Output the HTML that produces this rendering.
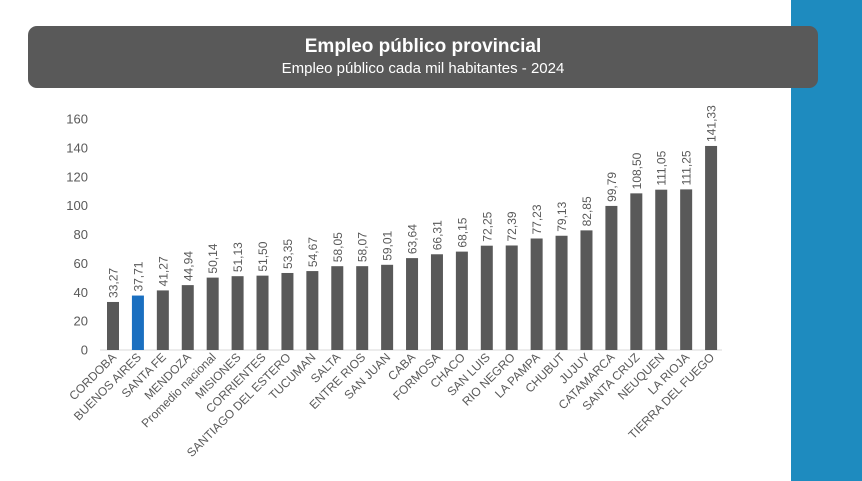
<!DOCTYPE html>
<html><head><meta charset="utf-8"><style>
body{margin:0;width:862px;height:481px;background:#fff;position:relative;overflow:hidden;font-family:"Liberation Sans",sans-serif}
.strip{position:absolute;left:791px;top:0;width:71px;height:481px;background:#1e8bbf}
.title{position:absolute;left:28px;top:26px;width:790px;height:62px;background:#595959;border-radius:9px;color:#fff;text-align:center}
</style></head><body>
<div class="strip"></div>
<div class="title"><div style="font-weight:bold;font-size:19px;margin-top:10px">Empleo público provincial</div><div style="font-size:15px;margin-top:2px">Empleo público cada mil habitantes - 2024</div></div>
<svg width="862" height="481" style="position:absolute;left:0;top:0" font-family="Liberation Sans, sans-serif" fill="#595959">
<g font-size="13" text-anchor="end" id="yax"></g>
<line x1="100" y1="350" x2="722" y2="350" stroke="#d9d9d9"/>
<g id="bars"></g>
</svg>
<script>
var d=[["CORDOBA",33.27],["BUENOS AIRES",37.71],["SANTA FE",41.27],["MENDOZA",44.94],["Promedio nacional",50.14],["MISIONES",51.13],["CORRIENTES",51.50],["SANTIAGO DEL ESTERO",53.35],["TUCUMAN",54.67],["SALTA",58.05],["ENTRE RIOS",58.07],["SAN JUAN",59.01],["CABA",63.64],["FORMOSA",66.31],["CHACO",68.15],["SAN LUIS",72.25],["RIO NEGRO",72.39],["LA PAMPA",77.23],["CHUBUT",79.13],["JUJUY",82.85],["CATAMARCA",99.79],["SANTA CRUZ",108.50],["NEUQUEN",111.05],["LA RIOJA",111.25],["TIERRA DEL FUEGO",141.33]];
var s="",k=231/160;
for(var v=0;v<=160;v+=20){s+='<text x="88" y="'+(354.5-v*k)+'">'+v+'</text>';}
document.getElementById('yax').innerHTML=s;s="";
d.forEach(function(e,i){var x=107+i*24.92,h=e[1]*k,c=x+6;
s+='<rect x="'+x+'" y="'+(350-h)+'" width="12" height="'+h+'" fill="'+(i==1?'#1a6fc0':'#595959')+'"/>';
s+='<text font-size="12" transform="translate('+(c+4.5)+','+(346-h)+') rotate(-90)">'+e[1].toFixed(2).replace('.',',')+'</text>';
s+='<text font-size="12" text-anchor="end" transform="translate('+(c+4)+',358) rotate(-45)">'+e[0]+'</text>';});
document.getElementById('bars').innerHTML=s;
</script>
</body></html>
